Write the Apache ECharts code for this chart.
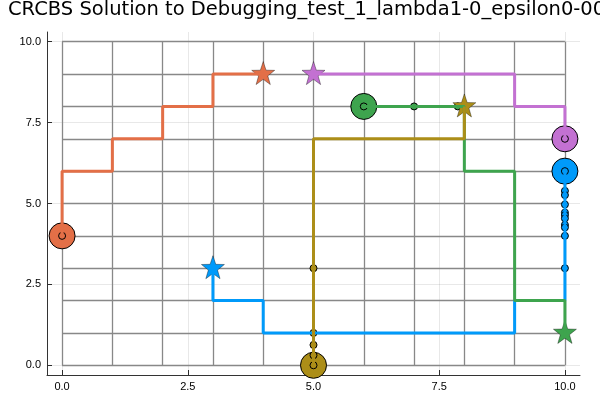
<!DOCTYPE html>
<html><head><meta charset="utf-8">
<script src="https://cdn.jsdelivr.net/npm/echarts@6/dist/echarts.min.js"></script>
<style>html,body{margin:0;padding:0;background:#fff}#c{width:600px;height:400px}</style>
</head><body><div id="c"></div>
<script>
const titleText = "CRCBS Solution to Debugging_test_1_lambda1-0_epsilon0-001";
const tickValues = [0, 2.5, 5, 7.5, 10];
const gridCells = [0,1,2,3,4,5,6,7,8,9,10];
const robotNames = ["blue","orange","green","purple","gold"];
const robotColors = ["#009AFA","#E36F47","#3EA44E","#C371D2","#AC8E18"];
// paths per robot
const bluePath   = [[3,3],[3,2],[4,2],[4,1],[9,1],[9,2],[10,2],[10,6]];
const orangePath = [[0,4],[0,6],[1,6],[1,7],[2,7],[2,8],[3,8],[3,9],[4,9]];
const greenPath  = [[6,8],[8,8],[8,6],[9,6],[9,2],[10,2],[10,1]];
const purplePath = [[10,7],[10,8],[9,8],[9,9],[5,9]];
const goldPath   = [[5,0],[5,7],[8,7],[8,8]];
// current positions (big circles)
const blueStart = [10,6], orangeStart = [0,4], greenStart = [6,8], purpleStart = [10,7], goldStart = [5,0];
// goals (stars)
const blueGoal = [3,3], orangeGoal = [4,9], greenGoal = [10,1], purpleGoal = [5,9], goldGoal = [8,8];
// waypoints (small circles)
const blueWaypoints   = [[10,6],[10,5.39],[10,5.26],[10,4.97],[10,4.72],[10,4.64],[10,4.54],[10,4.34],[10,4.26],[10,4.0],[10,3.0]];
const orangeWaypoints = [[0,4]];
const greenWaypoints  = [[6,8],[7,8],[7.87,8]];
const purpleWaypoints = [[10,7]];
const goldWaypoints   = [[5,0],[5,0.31],[5,0.63],[5,1.0],[5,3.0]];

const paths = [bluePath, orangePath, greenPath, purplePath, goldPath];
const starts = [blueStart, orangeStart, greenStart, purpleStart, goldStart];
const goals = [blueGoal, orangeGoal, greenGoal, purpleGoal, goldGoal];
const waypoints = [blueWaypoints, orangeWaypoints, greenWaypoints, purpleWaypoints, goldWaypoints];

const STAR = 'path://M0,-10 L2.35,-3.24 L9.51,-3.09 L3.8,1.24 L5.88,8.09 L0,4 L-5.88,8.09 L-3.8,1.24 L-9.51,-3.09 L-2.35,-3.24 Z';
const FONT = '"Liberation Sans", Arial, Helvetica, sans-serif';

const lo = -0.3, hi = 10.3;
const lightLines = [];
tickValues.forEach(v => { lightLines.push({coords:[[v,lo],[v,hi]]}); lightLines.push({coords:[[lo,v],[hi,v]]}); });
const darkLines = [];
gridCells.forEach(v => { darkLines.push({coords:[[v,0],[v,10]]}); darkLines.push({coords:[[0,v],[10,v]]}); });

const series = [
  {type:'lines', coordinateSystem:'cartesian2d', data:lightLines, silent:true,
   lineStyle:{color:'rgba(0,0,0,0.09)', width:1, opacity:1}},
  {type:'lines', coordinateSystem:'cartesian2d', data:darkLines, silent:true,
   lineStyle:{color:'#888', width:1.3, opacity:1}}
];
robotNames.forEach((n,i) => {
  const c = robotColors[i];
  series.push({type:'line', name:n+'-path', data:paths[i], showSymbol:false, symbol:'none',
    lineStyle:{color:c, width:3}, animation:false});
  series.push({type:'scatter', name:n+'-pos', data:[starts[i]], symbol:'circle', symbolSize:26,
    itemStyle:{color:c, borderColor:'#000', borderWidth:1, opacity:1}, animation:false});
  series.push({type:'scatter', name:n+'-way', data:waypoints[i], symbol:'circle', symbolSize:7,
    itemStyle:{color:c, borderColor:'#000', borderWidth:1, opacity:1}, animation:false});
  series.push({type:'scatter', name:n+'-goal', data:[goals[i]], symbol:STAR, symbolSize:[23,23],
    symbolOffset:[0,-1], symbolKeepAspect:false,
    itemStyle:{color:c, borderColor:'rgba(0,0,0,0.45)', borderWidth:0.8, opacity:1}, animation:false});
});

const axisCommon = {
  type:'value', min:lo, max:hi, splitLine:{show:false},
  axisLine:{show:true, onZero:false, lineStyle:{color:'#333', width:1}},
  axisTick:{show:true, inside:true, length:5, customValues:tickValues, lineStyle:{color:'#333'}},
  axisLabel:{show:true, customValues:tickValues, margin:6, fontSize:11, color:'#000', fontFamily:FONT,
    formatter:v => Number(v).toFixed(1)}
};
const chart = echarts.init(document.getElementById('c'), null, {renderer:'canvas'});
chart.setOption({
  animation:false,
  title:{text:titleText, left:8, top:0, padding:0,
    textStyle:{fontSize:19.5, fontWeight:'normal', color:'#000', fontFamily:'"DejaVu Sans", sans-serif'}},
  grid:{left:47, right:20, top:32, bottom:25, containLabel:false},
  xAxis:Object.assign({}, axisCommon),
  yAxis:Object.assign({}, axisCommon),
  series:series
});
</script></body></html>
